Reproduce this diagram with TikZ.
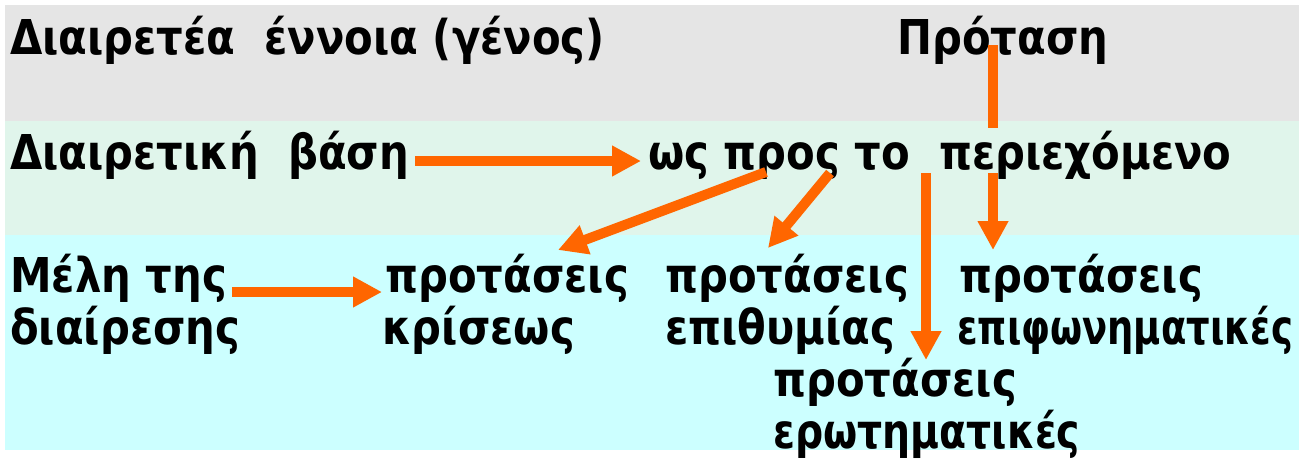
\documentclass[tikz,border=0pt]{standalone}
\usepackage{fontspec}
\setmainfont{DejaVu Sans}[FakeStretch=0.87]
\newfontfamily\narrowfont{DejaVu Sans}[FakeStretch=0.82]
\newfontfamily\narrowerfont{DejaVu Sans}[FakeStretch=0.77]
\usetikzlibrary{arrows.meta}
\definecolor{bandgray}{HTML}{E5E5E5}
\definecolor{bandgreen}{HTML}{E0F5EB}
\definecolor{bandcyan}{HTML}{CCFFFF}
\definecolor{arrorange}{HTML}{FF6600}
\tikzset{
  lbl/.style={anchor=base west, inner sep=0pt, font=\fontsize{48}{52}\selectfont\bfseries, align=left},
  arr/.style={draw=arrorange, line width=10pt, -{Triangle[length=29pt,width=29pt]}, color=arrorange},
}
\begin{document}
\begin{tikzpicture}[x=1pt,y=-1pt]
\useasboundingbox (0,0) rectangle (1306,459);
\fill[bandgray] (5,5) rectangle (1299,121);
\fill[bandgreen] (5,121) rectangle (1299,235);
\fill[bandcyan] (5,235) rectangle (1299,450);
% anchor points
\coordinate (a3s) at (993,45);
\coordinate (a3e) at (993,250);
\node[lbl] (r1a) at (10,54) {Διαιρετέα~~έννοια (γένος)};
\node[lbl] (r1b) at (897,54) {Πρόταση};
\draw[arr] (a3s) -- (a3e);
\node[lbl, fill=bandgreen, text height=41pt, text depth=4pt] (r2b) at (648,169) {ως προς το~~περιεχόμενο};
\node[lbl] (r2a) at (10,169) {Διαιρετική~~βάση};
\node[lbl] (r3a) at (10,344) {Μέλη της\\διαίρεσης};
\node[lbl] (c1) at (382,344) {\hspace{3pt}προτάσεις\\κρίσεως};
\node[lbl] (c2) at (665,344) {προτάσεις\\επιθυμίας};
\node[lbl] (c3) at (957,344) {\hspace{2pt}προτάσεις\\{\narrowerfont\bfseries επιφωνηματικές}};
\node[lbl] (c4) at (773,448) {προτάσεις\\{\narrowfont\bfseries ερωτηματικές}};
\coordinate (a1s) at (415,161);
\coordinate (a1e) at (641,161);
\coordinate (a2s) at (232,292);
\coordinate (a2e) at (382,292);
\coordinate (a4s) at (926,173);
\coordinate (a4e) at (926,360);
\coordinate (a5s) at (766,172);
\coordinate (a5e) at (558,250);
\coordinate (a6s) at (830,173);
\coordinate (a6e) at (768,248);
\draw[arr] (a1s) -- (a1e);
\draw[arr] (a2s) -- (a2e);
\draw[arr] (a4s) -- (a4e);
\draw[arr] (a5s) -- (a5e);
\draw[arr] (a6s) -- (a6e);
\end{tikzpicture}
\end{document}
